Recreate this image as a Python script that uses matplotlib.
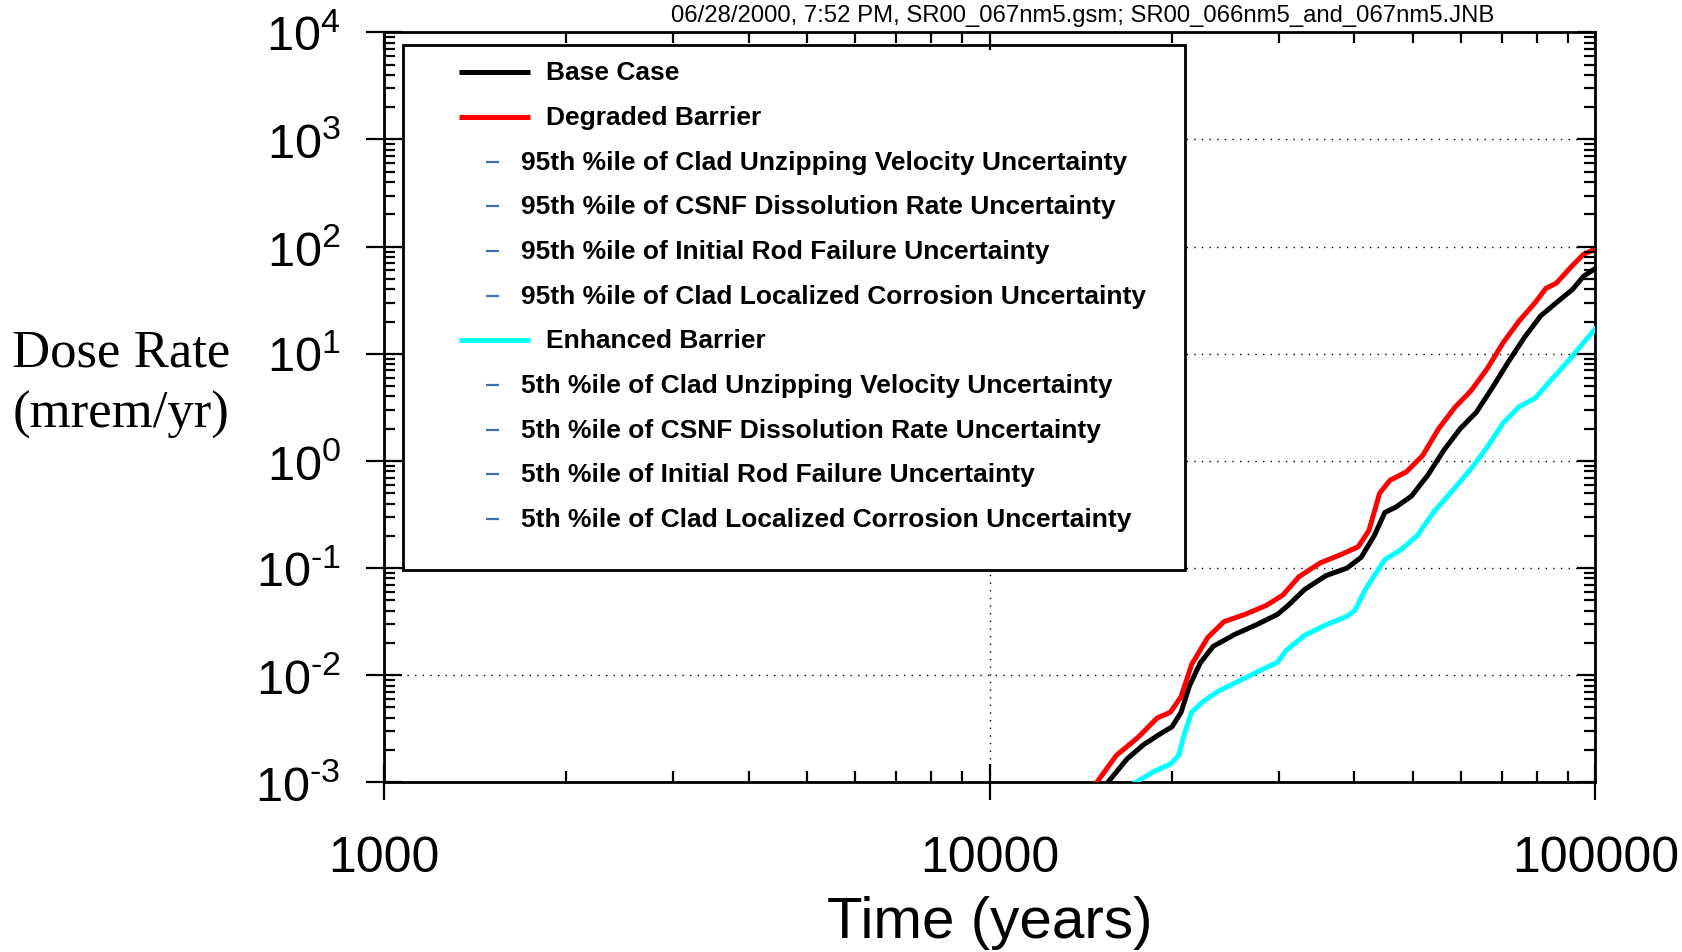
import matplotlib
matplotlib.use("Agg")
import matplotlib.pyplot as plt
from matplotlib.patches import Rectangle
from matplotlib.ticker import LogLocator, NullFormatter, FuncFormatter
import numpy as np

plt.rcParams["font.family"] = ["Liberation Sans", "DejaVu Sans"]
plt.rcParams["mathtext.fontset"] = "custom"
plt.rcParams["mathtext.rm"] = "Liberation Sans"

# dose histories (years, mrem/yr)
years_base = [15670, 16870, 17940, 19060, 20000, 20700, 21380, 22280, 23390, 25370,
              27540, 29870, 31120, 33090, 35900, 38900, 41040, 43130, 44900, 46800,
              49700, 52900, 56200, 59800, 63600, 67600, 71800, 76400, 81200, 86200,
              91700, 95600, 100000]
dose_base = [1.0e-3, 1.66e-3, 2.24e-3, 2.8e-3, 3.3e-3, 4.5e-3, 8.0e-3, 0.0131, 0.0186, 0.024,
             0.0295, 0.037, 0.045, 0.063, 0.085, 0.10, 0.126, 0.20, 0.33, 0.37,
             0.47, 0.74, 1.26, 2.0, 2.85, 4.84, 8.4, 14.3, 22.6, 30,
             40, 53, 62.7]

years_degraded = [15030, 16180, 17580, 18920, 19870, 20700, 21550, 22900, 24370, 26420,
                  28660, 30480, 32400, 35170, 38160, 40580, 42270, 44030, 45800, 48730,
                  51830, 55100, 58600, 62270, 66200, 70400, 74800, 79500, 82800, 86200,
                  91700, 95600, 100000]
dose_degraded = [1.0e-3, 1.78e-3, 2.63e-3, 4.0e-3, 4.5e-3, 6.3e-3, 0.0126, 0.0224, 0.0316, 0.037,
                 0.045, 0.056, 0.083, 0.112, 0.135, 0.158, 0.224, 0.50, 0.66, 0.79,
                 1.12, 2.0, 3.16, 4.5, 7.2, 12.7, 20.2, 30, 40.7, 45.7,
                 67, 85, 95]

years_enhanced = [17420, 18670, 19870, 20520, 20950, 21550, 22440, 23860, 25880, 28090,
                  29870, 30850, 33090, 35900, 38900, 40050, 41700, 44900, 47730, 50770,
                  54000, 58600, 62270, 66200, 70400, 74800, 79500, 84500, 89900, 95600,
                  100000]
dose_enhanced = [1.0e-3, 1.26e-3, 1.48e-3, 1.78e-3, 2.8e-3, 4.5e-3, 5.6e-3, 7.1e-3, 8.9e-3, 0.0112,
                 0.0132, 0.017, 0.0235, 0.0295, 0.0355, 0.04, 0.063, 0.12, 0.148, 0.2,
                 0.33, 0.56, 0.84, 1.33, 2.26, 3.2, 3.85, 5.7, 8.4, 12.7,
                 17.2]

upper_labels = ["95th %ile of Clad Unzipping Velocity Uncertainty",
                "95th %ile of CSNF Dissolution Rate Uncertainty",
                "95th %ile of Initial Rod Failure Uncertainty",
                "95th %ile of Clad Localized Corrosion Uncertainty"]
lower_labels = ["5th %ile of Clad Unzipping Velocity Uncertainty",
                "5th %ile of CSNF Dissolution Rate Uncertainty",
                "5th %ile of Initial Rod Failure Uncertainty",
                "5th %ile of Clad Localized Corrosion Uncertainty"]

header = "06/28/2000, 7:52 PM, SR00_067nm5.gsm; SR00_066nm5_and_067nm5.JNB"

fig = plt.figure(figsize=(16.83, 9.53), dpi=100)
rect = [0.228, 0.178, 0.72, 0.787]
ax = fig.add_axes(rect)

lw = 3.6
ax.plot(years_base, dose_base, color="black", lw=lw, zorder=3)
ax.plot(years_degraded, dose_degraded, color="red", lw=lw, zorder=3)
ax.plot(years_enhanced, dose_enhanced, color="cyan", lw=lw, zorder=3)

ax.set_xscale("log")
ax.set_yscale("log")
ax.set_xlim(1000, 100000)
ax.set_ylim(1e-3, 1e4)


def decade_label(v, _):
    p = round(np.log10(v))
    exp = r"\text{-}%d" % -p if p < 0 else "%d" % p
    return r"$\mathregular{10^{%s}}$" % exp


ax.xaxis.set_major_locator(LogLocator(base=10, numticks=10))
ax.xaxis.set_minor_locator(LogLocator(base=10, subs=np.arange(2, 10), numticks=10))
ax.yaxis.set_major_locator(LogLocator(base=10, numticks=20))
ax.yaxis.set_minor_locator(LogLocator(base=10, subs=np.arange(2, 10), numticks=20))
ax.xaxis.set_major_formatter(FuncFormatter(lambda v, _: f"{v:.0f}"))
ax.yaxis.set_major_formatter(FuncFormatter(decade_label))
ax.xaxis.set_minor_formatter(NullFormatter())
ax.yaxis.set_minor_formatter(NullFormatter())

for s in ax.spines.values():
    s.set_linewidth(2.0)

ax.tick_params(which="major", direction="inout", length=26, width=1.6,
               top=False, right=False)
ax.tick_params(which="minor", direction="in", length=8, width=1.6,
               top=False, right=False)
ax.tick_params(axis="x", which="major", labelsize=36, pad=25)
ax.tick_params(axis="y", which="major", labelsize=35, pad=18)

# top and right ticks point inward only
ax2 = fig.add_axes(rect, sharex=ax, sharey=ax)
ax2.patch.set_visible(False)
for s in ax2.spines.values():
    s.set_visible(False)
ax2.tick_params(which="both", direction="in", left=False, bottom=False,
                top=True, right=True, labelleft=False, labelbottom=False)
ax2.tick_params(which="major", length=13, width=1.6)
ax2.tick_params(which="minor", length=8, width=1.6)

ax.grid(True, which="major", color="black", lw=1.0, ls=(0, (1, 4.5)), zorder=0)

ax.set_xlabel("Time (years)", fontsize=42, labelpad=10)
ax.set_ylabel("Dose Rate\n(mrem/yr)", family=["Liberation Serif", "DejaVu Serif"],
              fontsize=38, rotation=0, ha="center", va="center", linespacing=1.35)
ax.yaxis.set_label_coords(-0.2164, 0.532)

fig.text(0.6435, 0.983, header, ha="center", va="center", fontsize=17.2,
         family=["Liberation Sans Narrow", "Liberation Sans", "DejaVu Sans"])

# legend box drawn by hand
T = ax.transAxes
ax.add_patch(Rectangle((0.0157, 0.283), 0.6457, 0.700, transform=T,
                       facecolor="white", edgecolor="black", lw=2.0,
                       zorder=5, clip_on=False))

rows = [("line", "black", "Base Case"), ("line", "red", "Degraded Barrier")]
rows += [("dash", "#3d6fb5", t) for t in upper_labels]
rows += [("line", "cyan", "Enhanced Barrier")]
rows += [("dash", "#3d6fb5", t) for t in lower_labels]

y0, dy = 0.9469, 0.05958
for i, (kind, col, label) in enumerate(rows):
    y = y0 - i * dy
    if kind == "line":
        ax.plot([0.0619, 0.1206], [y, y], transform=T, color=col, lw=3.6,
                solid_capstyle="butt", zorder=6, clip_on=False)
        tx = 0.1338
    else:
        ax.plot([0.0842, 0.0950], [y, y], transform=T, color=col, lw=1.6,
                solid_capstyle="butt", zorder=6, clip_on=False)
        tx = 0.1136
    ax.text(tx, y, label, transform=T, fontsize=19, fontweight="bold",
            ha="left", va="center", zorder=6)

fig.savefig("out.png", dpi=100)
